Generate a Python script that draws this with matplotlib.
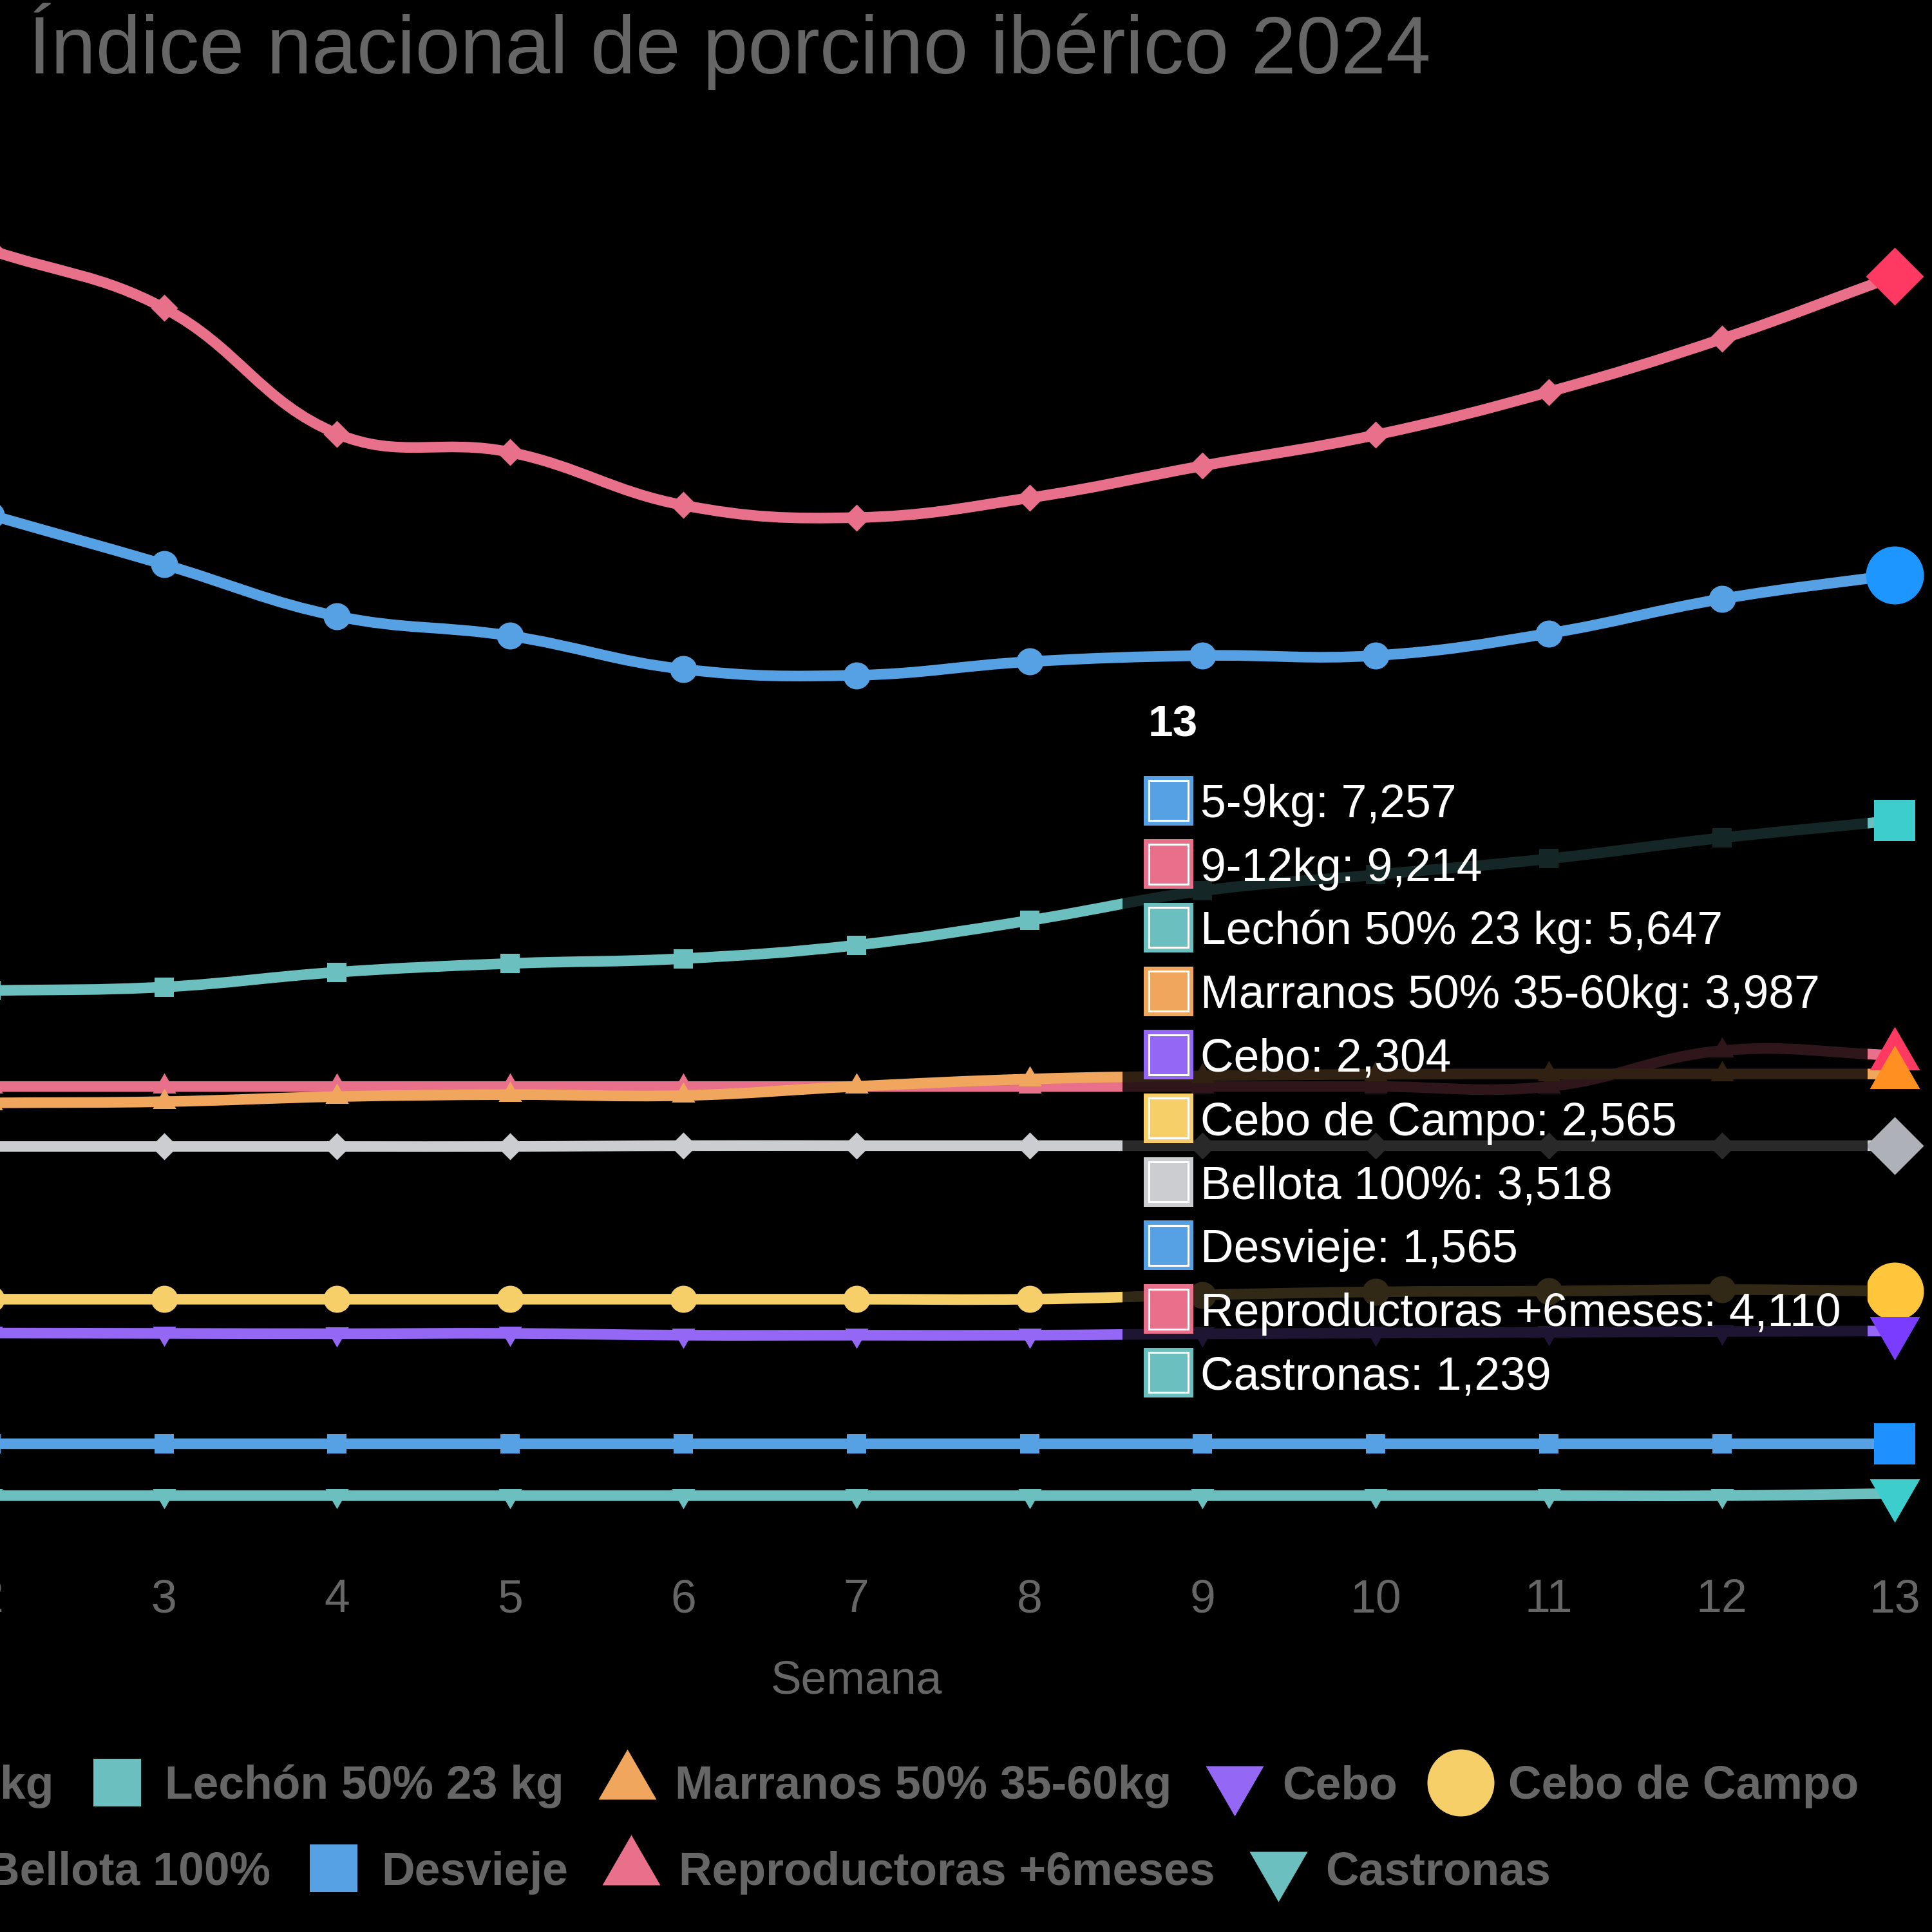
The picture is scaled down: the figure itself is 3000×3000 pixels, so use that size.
import numpy as np
import matplotlib
matplotlib.use("Agg")
import matplotlib.pyplot as plt
from matplotlib.path import Path
from matplotlib.patches import PathPatch, FancyBboxPatch, Rectangle
from matplotlib.lines import Line2D
from matplotlib.transforms import blended_transform_factory

plt.rcParams['font.family'] = ['Liberation Sans', 'DejaVu Sans']

# ---------------- data ----------------
title = "Índice nacional de porcino ibérico 2024"
x_title = "Semana"
weeks = [2, 3, 4, 5, 6, 7, 8, 9, 10, 11, 12, 13]
tooltip_week = 13

names = ["5-9kg", "9-12kg", "Lechón 50% 23 kg", "Marranos 50% 35-60kg", "Cebo",
         "Cebo de Campo", "Bellota 100%", "Desvieje", "Reproductoras +6meses", "Castronas"]

s_5_9 = [7.648, 7.325, 6.986, 6.857, 6.639, 6.599, 6.688, 6.728, 6.728, 6.873, 7.099, 7.257]
s_9_12 = [9.383, 9.004, 8.181, 8.060, 7.713, 7.632, 7.761, 7.971, 8.173, 8.455, 8.802, 9.214]
lechon = [4.533, 4.557, 4.654, 4.711, 4.743, 4.831, 4.993, 5.187, 5.292, 5.397, 5.534, 5.647]
marranos = [3.798, 3.806, 3.839, 3.852, 3.846, 3.906, 3.954, 3.975, 3.985, 3.987, 3.987, 3.987]
cebo = [2.290, 2.288, 2.286, 2.288, 2.276, 2.276, 2.276, 2.285, 2.290, 2.295, 2.300, 2.304]
cebo_campo = [2.512, 2.512, 2.512, 2.512, 2.512, 2.512, 2.512, 2.540, 2.560, 2.565, 2.575, 2.565]
bellota = [3.512, 3.512, 3.512, 3.512, 3.518, 3.518, 3.518, 3.518, 3.518, 3.518, 3.518, 3.518]
desvieje = [1.565, 1.565, 1.565, 1.565, 1.565, 1.565, 1.565, 1.565, 1.565, 1.565, 1.565, 1.565]
reproductoras = [3.905, 3.905, 3.905, 3.905, 3.905, 3.905, 3.905, 3.905, 3.905, 3.905, 4.140, 4.110]
castronas = [1.225, 1.225, 1.225, 1.225, 1.225, 1.225, 1.225, 1.225, 1.225, 1.225, 1.225, 1.239]

series = [s_5_9, s_9_12, lechon, marranos, cebo, cebo_campo, bellota, desvieje, reproductoras, castronas]

# ---------------- style ----------------
colors = ["#56a1e4", "#e9708a", "#6bbfbf", "#f0a65c", "#9468f5",
          "#f6cf68", "#cbcdd0", "#56a1e4", "#e9708a", "#6bbfbf"]
hover_colors = ["#1e96ff", "#ff3a62", "#3ecdcd", "#ff8f20", "#7a3cff",
                "#ffc63c", "#aeb1b7", "#1e90ff", "#ff3a62", "#3ecdcd"]
styles = ["circle", "diamond", "square", "tri_up", "tri_down",
          "circle", "diamond", "square", "tri_up", "tri_down"]

TRI_UP = Path([(0, 1), (-0.866, -0.5), (0.866, -0.5), (0, 1)],
              [Path.MOVETO, Path.LINETO, Path.LINETO, Path.CLOSEPOLY])
TRI_DN = Path([(0, -1), (-0.866, 0.5), (0.866, 0.5), (0, -1)],
              [Path.MOVETO, Path.LINETO, Path.LINETO, Path.CLOSEPOLY])
DIAM = Path([(0, 1), (1, 0), (0, -1), (-1, 0), (0, 1)],
            [Path.MOVETO, Path.LINETO, Path.LINETO, Path.LINETO, Path.CLOSEPOLY])


def marker_of(style, r_px):
    r = r_px * 0.72
    if style == "circle":
        return "o", 2 * r
    if style == "square":
        return "s", 1.414 * r
    if style == "diamond":
        return DIAM, 2 * r
    if style == "tri_up":
        return TRI_UP, 2 * r
    return TRI_DN, 2 * r


W = H = 3000
fig = plt.figure(figsize=(30, 30), dpi=100, facecolor="black")


def fx(x):
    return x / W


def fy(y):
    return 1 - y / H


# axes geometry (pixels from top-left)
ax_top, ax_bot = 242.3, 2375.8
ax = fig.add_axes([0, fy(ax_bot), 1, (ax_bot - ax_top) / H])
ax.set_facecolor("black")
ax.set_xlim(2.053, 13.214)
ax.set_ylim(1.0, 10.0)
ax.axis("off")

LW = 16.5 * 0.72


def spline_path(xs, ys, t=0.4):
    pts = ax.transData.transform(np.column_stack([xs, ys]))
    n = len(pts)
    cps = []
    for i in range(n):
        prev = pts[i - 1] if i > 0 else pts[i]
        nxt = pts[i + 1] if i < n - 1 else pts[i]
        d01 = np.hypot(*(pts[i] - prev))
        d12 = np.hypot(*(nxt - pts[i]))
        tot = d01 + d12
        s01 = d01 / tot if tot else 0
        s12 = d12 / tot if tot else 0
        cps.append((pts[i] - t * s01 * (nxt - prev), pts[i] + t * s12 * (nxt - prev)))
    verts = [pts[0]]
    codes = [Path.MOVETO]
    for i in range(1, n):
        verts += [cps[i - 1][1], cps[i][0], pts[i]]
        codes += [Path.CURVE4] * 3
    verts = ax.transData.inverted().transform(np.array(verts))
    return Path(verts, codes)


n_ser = len(series)
for i in range(n_ser):
    z = 100 - 3 * i
    p = spline_path(weeks, series[i])
    ax.add_patch(PathPatch(p, fill=False, edgecolor=colors[i], lw=LW,
                           capstyle="butt", joinstyle="miter", zorder=z))
    m, ms = marker_of(styles[i], 21)
    ax.plot(weeks[:-1], series[i][:-1], linestyle="none", marker=m, ms=ms,
            color=colors[i], mew=0, zorder=z + 1)

# hovered points (last week)
for i in range(n_ser):
    m, ms = marker_of(styles[i], 45)
    ax.plot([weeks[-1]], [series[i][-1]], linestyle="none", marker=m, ms=ms,
            color=hover_colors[i], mew=0, zorder=150 - i, clip_on=False)

# x tick labels (drawn as text so the partially visible "2" shows)
tick_tr = blended_transform_factory(ax.transData, fig.transFigure)
for w in weeks:
    ax.text(w, fy(2503), str(w), transform=tick_tr, ha="center", va="baseline",
            fontsize=51.5, color="#666666", clip_on=False)

ax.text(7, fy(2629), x_title, transform=tick_tr, ha="center", va="baseline",
        fontsize=51.5, color="#666666", clip_on=False)

# title
fig.text(fx(44), fy(114), title, ha="left", va="baseline", fontsize=90.4, color="#666666")

# ---------------- legend ----------------
renderer = fig.canvas.get_renderer()
LEG_FS = 51.5


def text_width(s, bold):
    t = fig.text(0, 0, s, fontsize=LEG_FS, fontweight="bold" if bold else "normal")
    w = t.get_window_extent(renderer).width
    t.remove()
    return w


def legend_row(items, anchor_idx, anchor_x, cy):
    widths = {i: text_width(names[i], True) for i in items}
    pos = {anchor_idx: anchor_x}
    k = items.index(anchor_idx)
    for j in range(k + 1, len(items)):
        prev = items[j - 1]
        pos[items[j]] = pos[prev] + 74 + widths[prev] + 98
    for j in range(k - 1, -1, -1):
        nxt = items[j + 1]
        pos[items[j]] = pos[nxt] - 98 - widths[items[j]] - 74
    for i in items:
        m, ms = marker_of(styles[i], 52)
        fig.add_artist(Line2D([fx(pos[i])], [fy(cy)], transform=fig.transFigure,
                              marker=m, ms=ms, color=colors[i], mew=0, linestyle="none"))
        fig.text(fx(pos[i] + 74), fy(cy + 25.5), names[i], ha="left", va="baseline",
                 fontsize=LEG_FS, fontweight="bold", color="#666666")


legend_row([0, 1, 2, 3, 4, 5], 2, 182, 2768)
legend_row([6, 7, 8, 9], 7, 518, 2901)

# ---------------- tooltip ----------------
tt_l, tt_r, tt_t, tt_b = 1743, 2900, 1045, 2200
box = FancyBboxPatch((fx(tt_l), fy(tt_b)), (tt_r - tt_l) / W, (tt_b - tt_t) / H,
                     boxstyle="round,pad=0,rounding_size=0.004",
                     transform=fig.transFigure, facecolor=(0, 0, 0, 0.8),
                     edgecolor="none", zorder=300, clip_on=False)
ax.add_patch(box)

widx = weeks.index(tooltip_week)
ax.text(fx(1783), fy(1144), str(tooltip_week), transform=fig.transFigure,
        ha="left", va="baseline", fontsize=50, fontweight="bold", color="white",
        zorder=310, clip_on=False)

row0, pitch, sq = 1243, 98.7, 77
for i in range(n_ser):
    cy = row0 + i * pitch
    ax.add_patch(Rectangle((fx(1776), fy(cy + sq / 2)), sq / W, sq / H,
                           transform=fig.transFigure, facecolor=colors[i],
                           edgecolor="none", zorder=305, clip_on=False))
    ins = 7.5
    ax.add_patch(Rectangle((fx(1776 + ins), fy(cy + sq / 2 - ins)), (sq - 2 * ins) / W,
                           (sq - 2 * ins) / H, transform=fig.transFigure,
                           facecolor="none", edgecolor="white", lw=2.2,
                           zorder=306, clip_on=False))
    val = f"{series[i][widx]:.3f}".replace(".", ",")
    ax.text(fx(1864), fy(cy + 26), f"{names[i]}: {val}", transform=fig.transFigure,
            ha="left", va="baseline", fontsize=51.5, color="white",
            zorder=310, clip_on=False)

fig.savefig("out.png", dpi=100, facecolor="black")
